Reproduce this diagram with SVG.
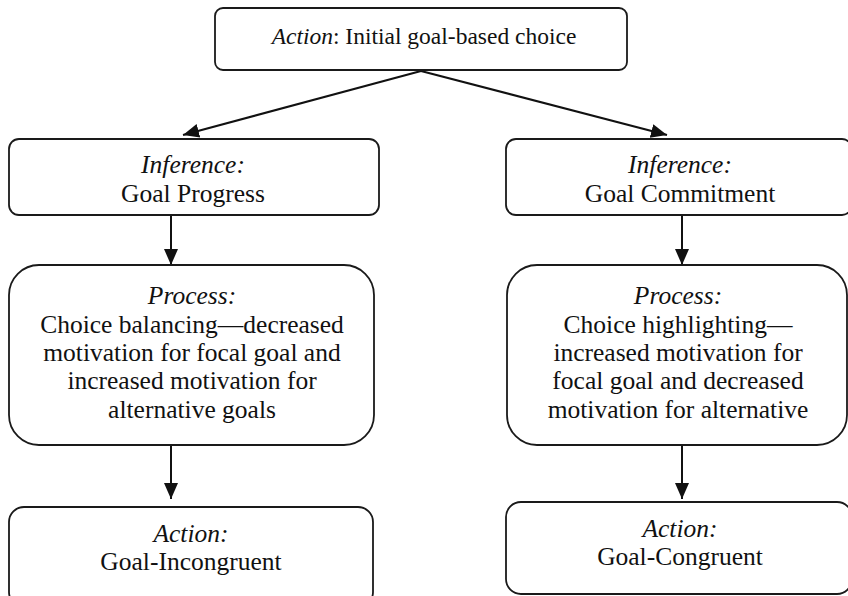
<svg xmlns="http://www.w3.org/2000/svg" width="848" height="596" viewBox="0 0 848 596">
  <style>
    .box { fill: #ffffff; stroke: #1a1a1a; stroke-width: 1.8; }
    .t { font-family: 'Liberation Serif', Tinos, 'Times New Roman', Times, serif; font-size: 25.5px; fill: #111111; text-anchor: middle; }
    .i { font-style: italic; }
    .link { stroke: #111111; stroke-width: 2; fill: none; }
  </style>
  <defs>
    <marker id="arrow" markerUnits="userSpaceOnUse" markerWidth="18" markerHeight="18" viewBox="0 0 18 18" refX="16" refY="9" orient="auto">
      <path d="M0,2 L16,9 L0,16 Z" fill="#111111"/>
    </marker>
  </defs>
  <rect width="848" height="596" fill="#ffffff"/>

  <g id="connectors">
    <line class="link" x1="421" y1="71" x2="183" y2="135" marker-end="url(#arrow)"/>
    <line class="link" x1="421" y1="71" x2="667" y2="135" marker-end="url(#arrow)"/>
    <line class="link" x1="171" y1="215" x2="171" y2="265" marker-end="url(#arrow)"/>
    <line class="link" x1="682" y1="215" x2="682" y2="265" marker-end="url(#arrow)"/>
    <line class="link" x1="171" y1="445" x2="171" y2="499" marker-end="url(#arrow)"/>
    <line class="link" x1="682" y1="445" x2="682" y2="499" marker-end="url(#arrow)"/>
  </g>

  <g id="initial-choice">
    <rect class="box" x="215" y="8" width="412" height="62" rx="8"/>
    <text class="t" x="424" y="44" style="font-size:23.5px"><tspan class="i">Action</tspan>: Initial goal-based choice</text>
  </g>

  <g id="goal-progress">
    <rect class="box" x="9" y="139" width="370" height="76" rx="10"/>
    <text class="t i" x="193" y="173">Inference:</text>
    <text class="t" x="193" y="202">Goal Progress</text>
  </g>

  <g id="goal-commitment">
    <rect class="box" x="506" y="139" width="346" height="76" rx="10"/>
    <text class="t i" x="680" y="173">Inference:</text>
    <text class="t" x="680" y="202">Goal Commitment</text>
  </g>

  <g id="choice-balancing">
    <rect class="box" x="9" y="265" width="365" height="180" rx="30"/>
    <text class="t i" x="192" y="304">Process:</text>
    <text class="t" x="192" y="333">Choice balancing—decreased</text>
    <text class="t" x="192" y="361">motivation for focal goal and</text>
    <text class="t" x="192" y="389">increased motivation for</text>
    <text class="t" x="192" y="418">alternative goals</text>
  </g>

  <g id="choice-highlighting">
    <rect class="box" x="507" y="265" width="340" height="180" rx="30"/>
    <text class="t i" x="678" y="304">Process:</text>
    <text class="t" x="678" y="333">Choice highlighting—</text>
    <text class="t" x="678" y="361">increased motivation for</text>
    <text class="t" x="678" y="389">focal goal and decreased</text>
    <text class="t" x="678" y="418">motivation for alternative</text>
  </g>

  <g id="goal-incongruent">
    <rect class="box" x="9" y="507" width="364" height="100" rx="15"/>
    <text class="t i" x="191" y="542">Action:</text>
    <text class="t" x="191" y="570">Goal-Incongruent</text>
  </g>

  <g id="goal-congruent">
    <rect class="box" x="506" y="502" width="346" height="92" rx="15"/>
    <text class="t i" x="680" y="537">Action:</text>
    <text class="t" x="680" y="565">Goal-Congruent</text>
  </g>
</svg>
